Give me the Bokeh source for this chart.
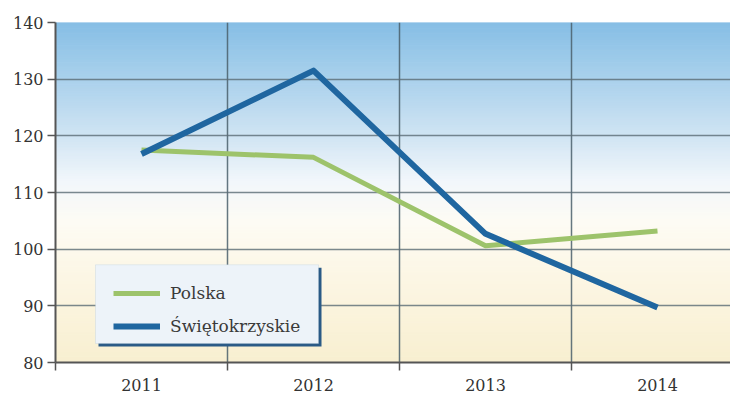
from bokeh.plotting import figure
from bokeh.models import Range1d, FixedTicker, Legend, LegendItem, BoxAnnotation
from bokeh.embed import file_html
from bokeh.resources import INLINE

# ---- data ----
years = ["2011", "2012", "2013", "2014"]
polska = [117.5, 116.2, 100.6, 103.2]
swietokrzyskie = [116.8, 131.5, 102.7, 89.7]
y_ticks = [80, 90, 100, 110, 120, 130, 140]

xs = list(range(len(years)))

W, H = 730, 393
LEFT, TOP, BOTTOM = 55, 22, 30
BAND = 172
frame_w = W - LEFT
frame_h = H - TOP - BOTTOM

p = figure(width=W, height=H, output_backend="svg", toolbar_location=None,
           x_range=Range1d(-0.5, -0.5 + frame_w / BAND), y_range=Range1d(80, 140),
           min_border_left=LEFT, min_border_right=0, min_border_top=TOP,
           min_border_bottom=BOTTOM)
p.background_fill_color = "white"
p.border_fill_color = "white"
p.outline_line_color = None

# ---- vertical gradient background (blue top -> white -> cream bottom) ----
stops = [(80, (248, 239, 208)), (95, (252, 246, 228)), (105, (253, 251, 244)),
         (112, (242, 247, 251)), (120, (208, 228, 243)), (130, (170, 209, 236)),
         (140, (134, 190, 229))]


def col_at(v):
    for (a, ca), (b, cb) in zip(stops[:-1], stops[1:]):
        if a <= v <= b:
            t = (v - a) / (b - a)
            c = [round(ca[i] + (cb[i] - ca[i]) * t) for i in range(3)]
            return "#%02x%02x%02x" % tuple(c)
    return "#ffffff"


step = 0.5
bots, tops, cols = [], [], []
v = 80.0
while v < 140:
    bots.append(v)
    tops.append(v + step)
    cols.append(col_at(v + step / 2))
    v += step
p.quad(left=-0.5, right=3.6, bottom=bots, top=tops, fill_color=cols,
       line_color=cols, line_width=1, level="underlay")

# ---- grid ----
p.ygrid.ticker = FixedTicker(ticks=y_ticks)
p.ygrid.grid_line_color = "#5a6b74"
p.ygrid.grid_line_alpha = 0.8
p.ygrid.grid_line_width = 1.5
p.xgrid.ticker = FixedTicker(ticks=[0.5, 1.5, 2.5])
p.xgrid.grid_line_color = "#4a5f6b"
p.xgrid.grid_line_alpha = 0.85
p.xgrid.grid_line_width = 1.5

# ---- axes ----
p.yaxis.ticker = FixedTicker(ticks=y_ticks)
p.xaxis.ticker = FixedTicker(ticks=xs, minor_ticks=[-0.5, 0.5, 1.5, 2.5])
p.xaxis.major_label_overrides = {i: y for i, y in enumerate(years)}
for ax in (p.xaxis[0], p.yaxis[0]):
    ax.axis_line_color = "#555555"
    ax.axis_line_width = 2
    ax.major_label_text_font = "DejaVu Serif"
    ax.major_label_text_font_size = "16px"
    ax.major_label_text_color = "#333333"
    ax.major_tick_line_color = "#555555"
    ax.major_tick_line_width = 1.5
    ax.minor_tick_line_color = "#555555"
    ax.minor_tick_line_width = 1.5
p.yaxis.major_tick_out = 8
p.yaxis.major_tick_in = 0
p.yaxis.minor_tick_line_color = None
p.yaxis.major_label_standoff = 4
p.xaxis.major_tick_out = 0
p.xaxis.major_tick_in = 0
p.xaxis.minor_tick_out = 8
p.xaxis.minor_tick_in = 0
p.xaxis.major_label_standoff = 8

# ---- series ----
r_pl = p.line(xs, polska, line_color="#9dc36b", line_width=5, line_join="round")
r_sw = p.line(xs, swietokrzyskie, line_color="#1f66a0", line_width=6,
              line_join="round")


# ---- legend box (drawn as annotations) ----
def px_x(px):
    return -0.5 + (px - LEFT) / BAND


def px_y(py):
    return 140 - (py - TOP) * 60 / frame_h


shadow = BoxAnnotation(left=px_x(98), right=px_x(321), top=px_y(268),
                       bottom=px_y(347), fill_color="#2a5a86", fill_alpha=1,
                       line_color=None, level="annotation")
box = BoxAnnotation(left=px_x(95), right=px_x(318), top=px_y(265),
                    bottom=px_y(344), fill_color="#edf3f9", fill_alpha=1,
                    line_color="#b4c6d4", line_width=1, level="annotation")
p.add_layout(shadow)
p.add_layout(box)

legend = Legend(items=[LegendItem(label="Polska", renderers=[r_pl]),
                       LegendItem(label="Świętokrzyskie", renderers=[r_sw])],
                location=(58, 24), padding=10, spacing=9,
                glyph_width=47, glyph_height=24, label_height=24,
                label_standoff=10, label_text_font="DejaVu Serif",
                label_text_font_size="17px", label_text_color="#3a3a3a",
                background_fill_alpha=0, border_line_color=None)
p.add_layout(legend, "center")

open("out.html", "w").write(file_html(p, INLINE))
